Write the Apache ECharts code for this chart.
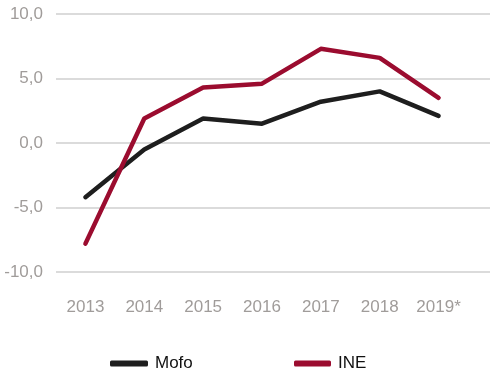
<!DOCTYPE html>
<html>
<head>
<meta charset="utf-8">
<script src="https://cdn.jsdelivr.net/npm/echarts@6/dist/echarts.min.js"></script>
<style>
	html, body { margin: 0; padding: 0; background: #fff; }
	#chart { width: 500px; height: 376px; }
</style>
</head>
<body>
<div id="chart"></div>
<script>
	var years = ['2013', '2014', '2015', '2016', '2017', '2018', '2019*'];
	var mofo = [-4.2, -0.5, 1.9, 1.5, 3.2, 4.0, 2.1];
	var ine = [-7.8, 1.9, 4.3, 4.6, 7.3, 6.6, 3.5];
	var yTicks = [-10, -5, 0, 5, 10];

	var font = '"Liberation Sans", Arial, sans-serif';
	var gray = '#a09c9a';
	var colors = ['#1e1e1e', '#9b0c2f'];

	var chart = echarts.init(document.getElementById('chart'));
	var option = {
		color: colors,
		animation: false,
		textStyle: { fontFamily: font },
		grid: [
			// lines sit in a narrower grid so the last point ends before the gridlines do
			{ left: 56, right: 32, top: 14, bottom: 104 },
			{ left: 56, right: 10, top: 14, bottom: 104 }
		],
		xAxis: [
			{
				type: 'category', gridIndex: 0, data: years, boundaryGap: true,
				axisLine: { show: false }, axisTick: { show: false },
				axisLabel: { color: gray, fontSize: 17, margin: 27, fontFamily: font }
			},
			{
				type: 'value', gridIndex: 1, show: false, min: 0, max: 1
			}
		],
		yAxis: [
			{
				type: 'value', gridIndex: 0, min: yTicks[0], max: yTicks[yTicks.length - 1], interval: 5,
				show: false
			},
			{
				type: 'value', gridIndex: 1, min: yTicks[0], max: yTicks[yTicks.length - 1], interval: 5,
				axisLine: { show: false }, axisTick: { show: false },
				splitLine: { lineStyle: { color: '#cfcfcf', width: 1.5 } },
				axisLabel: {
					color: gray, fontSize: 17, margin: 13, fontFamily: font,
					formatter: function(v){ return v.toFixed(1).replace('.', ','); }
				}
			}
		],
		legend: [
			{
				data: ['Mofo'], left: 105, top: 350, icon: 'roundRect',
				itemWidth: 38, itemHeight: 6, itemGap: 0,
				textStyle: { color: '#111', fontSize: 17, fontFamily: font, padding: [0, 0, 0, 2] }
			},
			{
				data: ['INE'], left: 289, top: 350, icon: 'roundRect',
				itemWidth: 37, itemHeight: 6, itemGap: 0,
				textStyle: { color: '#111', fontSize: 17, fontFamily: font, padding: [0, 0, 0, 2] }
			}
		],
		series: [
			{
				name: 'Mofo', type: 'line', xAxisIndex: 0, yAxisIndex: 0,
				data: mofo, symbol: 'none',
				lineStyle: { width: 4.5, color: colors[0], cap: 'round', join: 'round' }
			},
			{
				name: 'INE', type: 'line', xAxisIndex: 0, yAxisIndex: 0,
				data: ine, symbol: 'none',
				lineStyle: { width: 4.5, color: colors[1], cap: 'round', join: 'round' }
			}
		]
	};
	chart.setOption(option);
</script>
</body>
</html>
